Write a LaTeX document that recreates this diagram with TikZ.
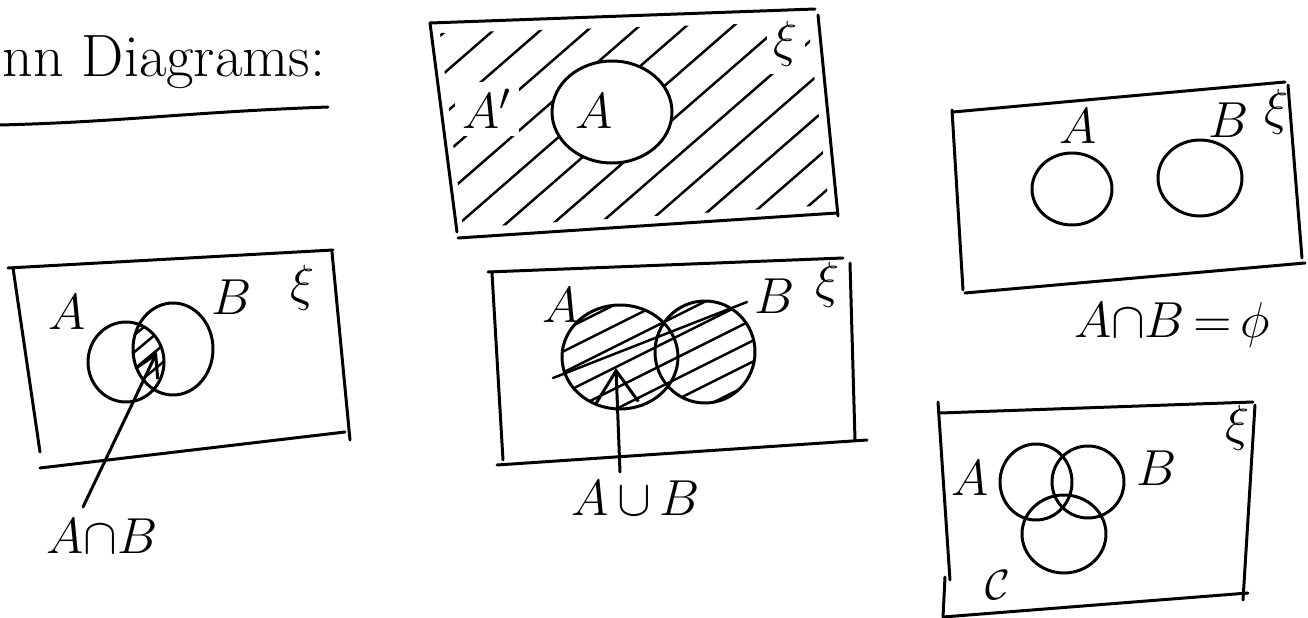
\documentclass[tikz,border=0pt]{standalone}
\usetikzlibrary{arrows.meta}
\begin{document}
\begin{tikzpicture}[x=0.01cm,y=-0.01cm,
  pen/.style={line width=0.85pt, line cap=round, line join=round},
  hatch/.style={line width=0.7pt, line cap=round},
  lbl/.style={font=\fontsize{15}{18}\selectfont, inner sep=0pt},
  uni/.style={font=\fontsize{15}{18}\selectfont, inner sep=0pt},
  bigl/.style={font=\fontsize{15}{18}\selectfont, inner sep=0pt},
  ttl/.style={font=\fontsize{17}{20}\selectfont, inner sep=0pt, anchor=base west},
  onhatch/.style={fill=white, inner sep=2pt},
  barb/.style={-{Straight Barb[length=6pt,width=7pt,line width=0.85pt]}}
]
\useasboundingbox (0,0) rectangle (1308,618);

% ---------- title ----------
\node[ttl] (title) at (2,77) {nn Diagrams:};
\draw[pen] (0,125) .. controls (120,122) and (190,112) .. (328,107);

% ---------- box 1 : complement ----------
\coordinate (b1tl) at (430,23);
\coordinate (b1tr) at (815,9);
\coordinate (b1rt) at (818,15);
\coordinate (b1rb) at (838,216);
\coordinate (b1bl) at (458,238);
\coordinate (b1br) at (837,213);
\coordinate (b1lb) at (457,232);
\coordinate (cA1) at (612,112);
\begin{scope}[even odd rule]
  \clip (440,33) -- (808,22) -- (829,205) -- (463,228) -- cycle
        (cA1) ellipse (60 and 51);
  \foreach \s in {0,...,13} \draw[hatch] (180+\s*47,262) -- ++(330,-287);
\end{scope}
\draw[pen] (b1tl) -- (b1tr);
\draw[pen] (b1tl) -- (b1lb);
\draw[pen] (b1rt) -- (b1rb);
\draw[pen] (b1bl) -- (b1br);
\draw[pen] (cA1) ellipse (60 and 51);
\node[lbl] (A1) at (594,111) {$A$};
\node[lbl, onhatch] (Ac1) at (487,109) {$A'$};
\node[uni, onhatch] (xi1) at (786,44) {$\xi$};

% ---------- box 2 : disjoint ----------
\draw[pen] (953,112) -- (1285,82);
\draw[pen] (952,110) -- (963,290);
\draw[pen] (1288,85) -- (1302,258);
\draw[pen] (965,293) -- (1305,263);
\draw[pen] (1072,189) ellipse (40 and 36);
\draw[pen] (1200,178) ellipse (42 and 38);
\node[lbl] (A2) at (1078,126) {$A$};
\node[lbl] (B2) at (1229,120) {$B$};
\node[uni] (xi2) at (1277,112) {$\xi$};
\node[bigl] (eq2) at (1172,325) {$A{\cap}B\,{=}\,\phi$};

% ---------- box 3 : intersection ----------
\draw[pen] (8,268) -- (333,250);
\draw[pen] (13,268) -- (40,452);
\draw[pen] (332,252) -- (350,440);
\draw[pen] (40,468) -- (345,432);
\coordinate (cA3) at (126,362);
\coordinate (cB3) at (173,349);
\begin{scope}
  \clip (cA3) ellipse (38 and 40);
  \clip (cB3) ellipse (40 and 46);
  \foreach \s in {0,...,4} \draw[hatch] (120,330+\s*17) -- ++(60,-50);
\end{scope}
\draw[pen] (cA3) ellipse (38 and 40);
\draw[pen] (cB3) ellipse (40 and 46);
\node[lbl] (A3) at (67,312) {$A$};
\node[lbl] (B3) at (232,297) {$B$};
\node[uni] (xi3) at (303,288) {$\xi$};
\node[lbl] (anb) at (102,536) {$A{\cap}B$};
\coordinate (anbtail) at (83,507);
\coordinate (anbtip) at (157,352);
\draw[pen,barb] (anbtail) -- (anbtip);

% ---------- box 4 : union ----------
\draw[pen] (488,272) -- (843,258);
\draw[pen] (492,273) -- (503,460);
\draw[pen] (850,263) -- (855,440);
\draw[pen] (497,465) -- (867,440);
\coordinate (cA4) at (620,357);
\coordinate (cB4) at (705,352);
\begin{scope}
  \clip (cA4) ellipse (58 and 52) (cB4) ellipse (50 and 51);
  \foreach \s in {0,...,10} \draw[hatch] (540,300+\s*21) -- ++(240,-120);
\end{scope}
\draw[hatch] (553,378) -- (747,302);
\draw[pen] (cA4) ellipse (58 and 52);
\draw[pen] (cB4) ellipse (50 and 51);
\node[lbl] (A4) at (561,305) {$A$};
\node[lbl] (B4) at (775,296) {$B$};
\node[uni] (xi4) at (828,285) {$\xi$};
\node[bigl] (aub) at (636,498) {$A\,{\cup}\,B$};
\coordinate (aubtail) at (620,472);
\coordinate (aubtip) at (616,368);
\draw[pen,-{Straight Barb[length=9pt,width=12pt,line width=0.85pt]}] (aubtail) -- (aubtip);

% ---------- box 5 : three sets ----------
\draw[pen] (940,413) -- (1253,402);
\draw[pen] (938,402) -- (950,580);
\draw[pen] (945,577) -- (943,617);
\draw[pen] (1255,405) -- (1243,600);
\draw[pen] (943,617) -- (1248,593);
\draw[pen] (1036,482) ellipse (36 and 38);
\draw[pen] (1088,482) ellipse (36 and 36);
\draw[pen] (1064,534) ellipse (42 and 39);
\node[lbl] (A5) at (970,478) {$A$};
\node[lbl] (B5) at (1157,468) {$B$};
\node[font=\fontsize{12}{14}\selectfont, inner sep=0pt] (C5) at (998,585) {$\mathcal{C}$};
\node[uni] (xi5) at (1238,428) {$\xi$};
\end{tikzpicture}
\end{document}
